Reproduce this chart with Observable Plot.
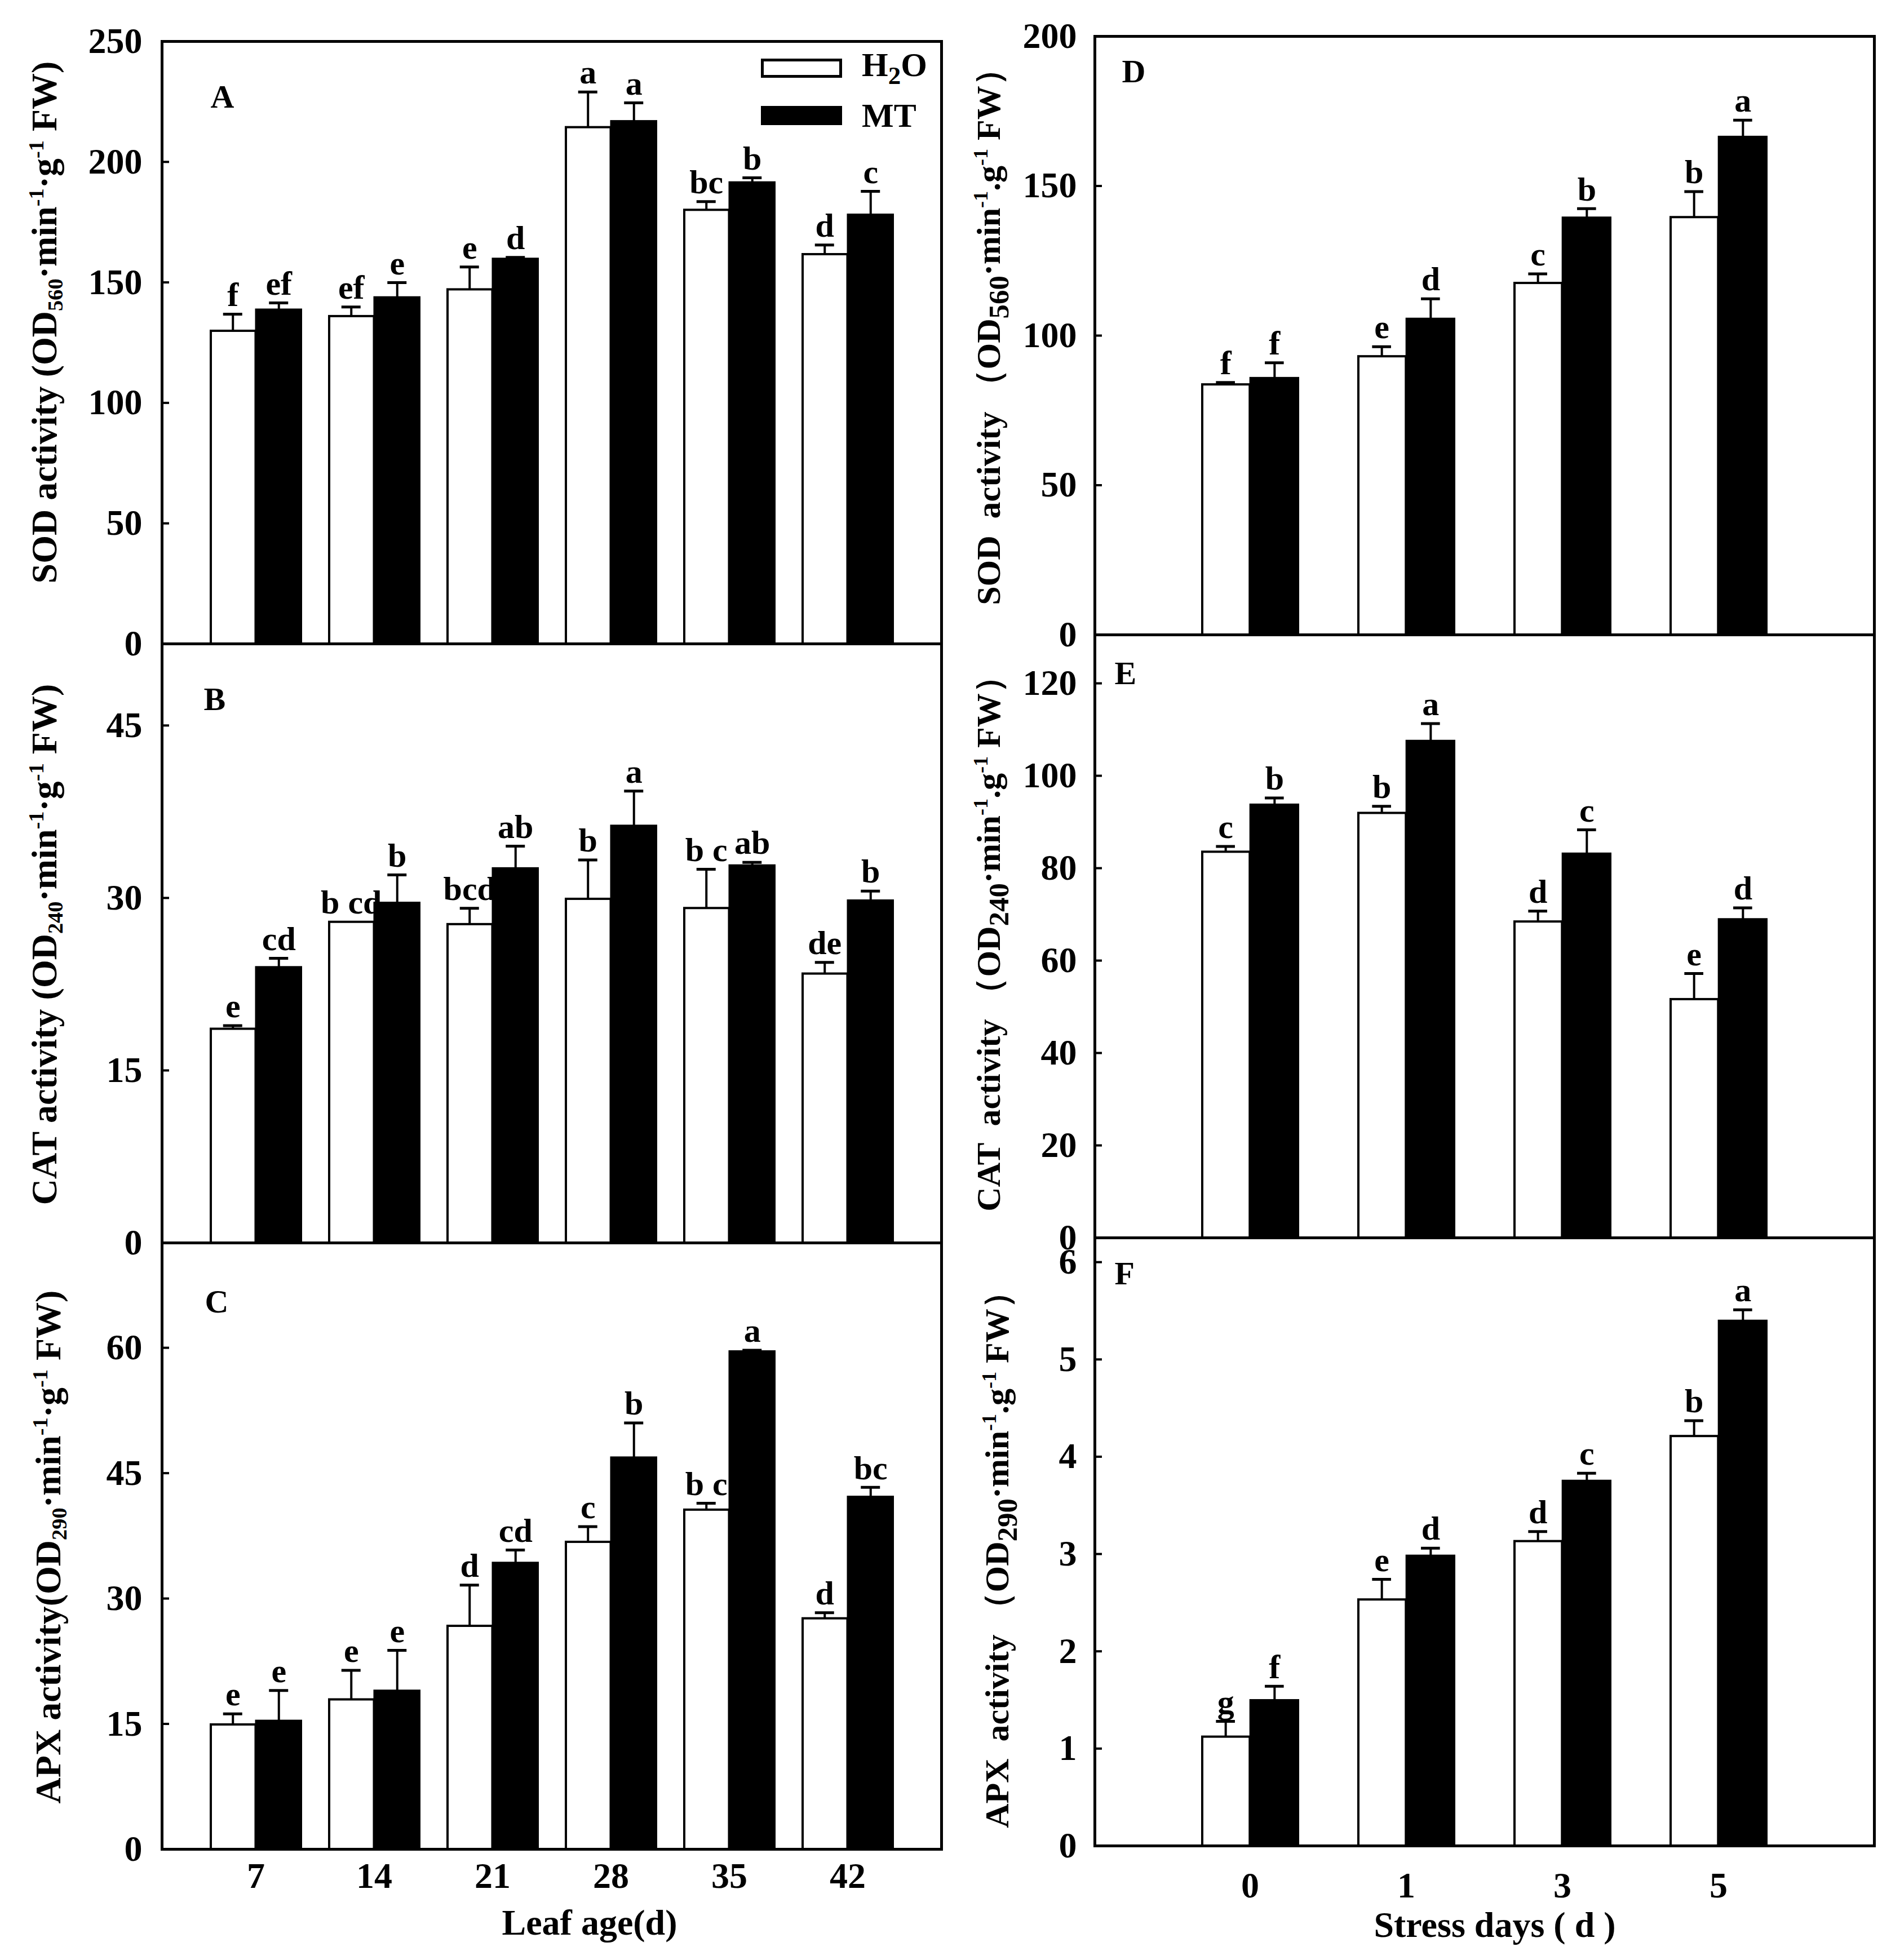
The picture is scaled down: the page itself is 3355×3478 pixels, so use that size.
<!DOCTYPE html>
<html>
<head>
<meta charset="utf-8">
<script src="https://cdn.jsdelivr.net/npm/d3@7"></script>
<script src="https://cdn.jsdelivr.net/npm/@observablehq/plot@0.6"></script>
<style>
  html, body { margin: 0; padding: 0; background: #fff; overflow: hidden; }
  #root { position: relative; width: 3355px; height: 3478px; background: #fff; overflow: hidden;
          font-family: 'Liberation Serif', 'Times New Roman', serif; font-weight: bold; color: #000; }
  .ytitle { position: absolute; white-space: pre; transform: translate(-50%, -50%) rotate(-90deg); line-height: 1; }
  .ytitle sub { font-size: 0.6em; vertical-align: -0.3em; }
  .ytitle sup { font-size: 0.6em; vertical-align: 0.6em; }
  .ytitle.r sub { font-size: 0.85em; vertical-align: -0.3em; }
  .xtitle { position: absolute; white-space: pre; transform: translate(-50%, -50%); line-height: 1; }
  .leg { position: absolute; box-sizing: border-box; }
  .legtxt { position: absolute; white-space: pre; transform: translateY(-50%); line-height: 1; font-size: 60px; }
  .legtxt sub { font-size: 0.75em; vertical-align: -0.3em; }
</style>
</head>
<body>
<div id="root"></div>
<script>
// ---------------- data ----------------
const leafAge = ["7", "14", "21", "28", "35", "42"];
const stressDays = ["0", "1", "3", "5"];

// Panel A: SOD vs leaf age
const sodLeafH2O = [129.8, 135.9, 147.0, 214.3, 180.0, 161.6];
const sodLeafH2OErr = [7.0, 3.9, 9.4, 14.7, 3.5, 3.9];
const sodLeafMT = [138.8, 143.9, 159.9, 217.0, 191.6, 178.2];
const sodLeafMTErr = [2.7, 6.0, 0.5, 7.5, 1.8, 9.6];
const sodLeafH2OSig = ["f", "ef", "e", "a", "bc", "d"];
const sodLeafMTSig = ["ef", "e", "d", "a", "b", "c"];
const sodLeafTicks = [0, 50, 100, 150, 200, 250];

// Panel B: CAT vs leaf age
const catLeafH2O = [18.6, 27.9, 27.7, 29.9, 29.1, 23.4];
const catLeafH2OErr = [0.3, 0, 1.4, 3.4, 3.4, 1.0];
const catLeafMT = [24.0, 29.6, 32.6, 36.3, 32.85, 29.8];
const catLeafMTErr = [0.75, 2.4, 1.9, 3.0, 0.25, 0.8];
const catLeafH2OSig = ["e", "b cd", "bcd", "b", "b c", "de"];
const catLeafMTSig = ["cd", "b", "ab", "a", "ab", "b"];
const catLeafTicks = [0, 15, 30, 45];

// Panel C: APX vs leaf age
const apxLeafH2O = [14.9, 17.9, 26.7, 36.75, 40.6, 27.6];
const apxLeafH2OErr = [1.3, 3.5, 4.9, 1.85, 0.8, 0.7];
const apxLeafMT = [15.4, 19.0, 34.3, 46.9, 59.6, 42.2];
const apxLeafMTErr = [3.6, 4.8, 1.5, 4.1, 0.1, 1.1];
const apxLeafH2OSig = ["e", "e", "d", "c", "b c", "d"];
const apxLeafMTSig = ["e", "e", "cd", "b", "a", "bc"];
const apxLeafTicks = [0, 15, 30, 45, 60];

// Panel D: SOD vs stress days
const sodStressH2O = [83.6, 93.0, 117.5, 139.5];
const sodStressH2OErr = [0.7, 3.3, 3.1, 8.6];
const sodStressMT = [85.9, 105.7, 139.5, 166.5];
const sodStressMTErr = [5.0, 6.6, 2.9, 5.5];
const sodStressH2OSig = ["f", "e", "c", "b"];
const sodStressMTSig = ["f", "d", "b", "a"];
const sodStressTicks = [0, 50, 100, 150, 200];

// Panel E: CAT vs stress days
const catStressH2O = [83.5, 91.9, 68.4, 51.6];
const catStressH2OErr = [1.2, 1.5, 2.3, 5.6];
const catStressMT = [93.8, 107.6, 83.2, 69.0];
const catStressMTErr = [1.4, 3.7, 5.1, 2.4];
const catStressH2OSig = ["c", "b", "d", "e"];
const catStressMTSig = ["b", "a", "c", "d"];
const catStressTicks = [0, 20, 40, 60, 80, 100, 120];

// Panel F: APX vs stress days
const apxStressH2O = [1.12, 2.53, 3.13, 4.21];
const apxStressH2OErr = [0.16, 0.21, 0.10, 0.16];
const apxStressMT = [1.50, 2.985, 3.755, 5.40];
const apxStressMTErr = [0.14, 0.075, 0.075, 0.11];
const apxStressH2OSig = ["g", "e", "d", "b"];
const apxStressMTSig = ["f", "d", "c", "a"];
const apxStressTicks = [0, 1, 2, 3, 4, 5, 6];

// ---------------- drawing ----------------
const root = document.getElementById("root");
const FRAME_W = 1383;
const FONT = "'Liberation Serif', 'Times New Roman', serif";

function panel(o) {
  const n = o.cats.length;
  const step = FRAME_W / (n - o.pi + 2 * o.po);
  const bw = step * (1 - o.pi);
  const q = bw / 4;
  const capHalf = 17;
  const rowsH = o.cats.map((c, i) => ({cat: c, v: o.h2o[i], e: o.h2oErr[i], l: o.h2oSig[i]}));
  const rowsM = o.cats.map((c, i) => ({cat: c, v: o.mtv[i], e: o.mtErr[i], l: o.mtSig[i]}));
  const errH = rowsH.filter(d => d.e > 0);
  const errM = rowsM.filter(d => d.e > 0);
  const marks = [
    Plot.barY(rowsH, {x: "cat", y: "v", fill: "white", stroke: "black", strokeWidth: 4, insetLeft: 2, insetRight: bw / 2}),
    Plot.barY(rowsM, {x: "cat", y: "v", fill: "black", stroke: "black", strokeWidth: 2, insetLeft: bw / 2, insetRight: 0}),
    Plot.ruleX(errH, {x: "cat", y1: "v", y2: d => d.v + d.e, dx: -q, strokeWidth: 4}),
    Plot.ruleX(errM, {x: "cat", y1: "v", y2: d => d.v + d.e, dx: q, strokeWidth: 4}),
    Plot.tickY(errH, {x: "cat", y: d => d.v + d.e, insetLeft: q - capHalf, insetRight: bw - q - capHalf, strokeWidth: 5}),
    Plot.tickY(errM, {x: "cat", y: d => d.v + d.e, insetLeft: 3 * q - capHalf, insetRight: q - capHalf, strokeWidth: 5}),
    Plot.text(rowsH, {x: "cat", y: d => d.v + d.e, text: "l", dx: -q, dy: -34, fontSize: 60, lineAnchor: "middle"}),
    Plot.text(rowsM, {x: "cat", y: d => d.v + d.e, text: "l", dx: q, dy: -34, fontSize: 60, lineAnchor: "middle"}),
    Plot.tickY(o.ticks, {y: d => d, insetRight: FRAME_W - 13, strokeWidth: 4}),
    Plot.axisY({ticks: o.ticks, tickSize: 0, tickPadding: o.tickPad, fontSize: 64, label: null, tickFormat: d => String(d)}),
    Plot.frame({strokeWidth: 5}),
    Plot.text([o.letter], {frameAnchor: "top-left", text: d => d, dx: o.letterDx, dy: o.letterDy, fontSize: 58, textAnchor: "start", lineAnchor: "middle"})
  ];
  if (o.xAxis) {
    marks.push(Plot.axisX({tickSize: 0, tickPadding: o.xPad, fontSize: 64, label: null}));
  }
  const svg = Plot.plot({
    width: o.ml + FRAME_W + o.mr,
    height: o.mTop + o.innerH + o.mb,
    marginTop: o.mTop, marginBottom: o.mb, marginLeft: o.ml, marginRight: o.mr,
    x: {type: "band", domain: o.cats, paddingInner: o.pi, paddingOuter: o.po, axis: o.xAxis ? undefined : null},
    y: {domain: [0, o.top]},
    style: {fontFamily: FONT, fontWeight: "bold", background: "transparent", overflow: "visible", color: "black"},
    marks
  });
  svg.style.position = "absolute";
  svg.style.left = o.left + "px";
  svg.style.top = o.topPx + "px";
  root.appendChild(svg);
}

const L = {cats: leafAge, pi: 0.225, po: 0.40, left: 0, ml: 287, mr: 30, tickPad: 35};
const R = {cats: stressDays, pi: 0.375, po: 0.68, left: 1700, ml: 242, mr: 30, tickPad: 32};

panel({...L, h2o: sodLeafH2O, h2oErr: sodLeafH2OErr, mtv: sodLeafMT, mtErr: sodLeafMTErr,
  h2oSig: sodLeafH2OSig, mtSig: sodLeafMTSig, ticks: sodLeafTicks, top: 250,
  topPx: 0, mTop: 73, innerH: 1069, mb: 40, letter: "A", letterDx: 86, letterDy: 99});
panel({...L, h2o: catLeafH2O, h2oErr: catLeafH2OErr, mtv: catLeafMT, mtErr: catLeafMTErr,
  h2oSig: catLeafH2OSig, mtSig: catLeafMTSig, ticks: catLeafTicks, top: 52.1,
  topPx: 1102, mTop: 40, innerH: 1063, mb: 40, letter: "B", letterDx: 74, letterDy: 99});
panel({...L, h2o: apxLeafH2O, h2oErr: apxLeafH2OErr, mtv: apxLeafMT, mtErr: apxLeafMTErr,
  h2oSig: apxLeafH2OSig, mtSig: apxLeafMTSig, ticks: apxLeafTicks, top: 72.55,
  topPx: 2165, mTop: 40, innerH: 1076, mb: 197, letter: "C", letterDx: 76, letterDy: 105, xAxis: true, xPad: 23});

panel({...R, h2o: sodStressH2O, h2oErr: sodStressH2OErr, mtv: sodStressMT, mtErr: sodStressMTErr,
  h2oSig: sodStressH2OSig, mtSig: sodStressMTSig, ticks: sodStressTicks, top: 200,
  topPx: 0, mTop: 64, innerH: 1062, mb: 40, letter: "D", letterDx: 48, letterDy: 63});
panel({...R, h2o: catStressH2O, h2oErr: catStressH2OErr, mtv: catStressMT, mtErr: catStressMTErr,
  h2oSig: catStressH2OSig, mtSig: catStressMTSig, ticks: catStressTicks, top: 130.5,
  topPx: 1086, mTop: 40, innerH: 1070, mb: 40, letter: "E", letterDx: 35, letterDy: 69});
panel({...R, h2o: apxStressH2O, h2oErr: apxStressH2OErr, mtv: apxStressMT, mtErr: apxStressMTErr,
  h2oSig: apxStressH2OSig, mtSig: apxStressMTSig, ticks: apxStressTicks, top: 6.25,
  topPx: 2156, mTop: 40, innerH: 1079, mb: 203, letter: "F", letterDx: 35, letterDy: 64, xAxis: true, xPad: 46});

// ---------------- titles ----------------
function addDiv(cls, html, x, y, size) {
  const d = document.createElement("div");
  d.className = cls;
  d.innerHTML = html;
  d.style.left = x + "px";
  d.style.top = y + "px";
  if (size) d.style.fontSize = size + "px";
  root.appendChild(d);
  return d;
}
addDiv("ytitle", "SOD activity (OD<sub>560</sub>·min<sup>-1</sup>·g<sup>-1</sup> FW)", 81, 572, 64);
addDiv("ytitle", "CAT activity (OD<sub>240</sub>·min<sup>-1</sup>·g<sup>-1</sup> FW)", 81, 1676, 64);
addDiv("ytitle", "APX activity(OD<sub>290</sub>·min<sup>-1</sup>·g<sup>-1</sup> FW)", 88, 2745, 64);
addDiv("ytitle r", "SOD  activity （OD<sub>560</sub>·min<sup>-1</sup>.g<sup>-1</sup> FW）", 1760, 583, 60);
addDiv("ytitle r", "CAT  activity （OD<sub>240</sub>·min<sup>-1</sup>.g<sup>-1</sup> FW）", 1760, 1660, 60);
addDiv("ytitle r", "APX  activity （OD<sub>290</sub>·min<sup>-1</sup>.g<sup>-1</sup> FW）", 1775, 2753, 60);
addDiv("xtitle", "Leaf age(d)", 1046, 3412, 64);
addDiv("xtitle", "Stress days ( d )", 2652, 3416, 64);

// ---------------- legend (panel A) ----------------
const lw = document.createElement("div");
lw.className = "leg";
Object.assign(lw.style, {left: "1350px", top: "104px", width: "144px", height: "34px", border: "5px solid #000", background: "#fff"});
root.appendChild(lw);
const lb = document.createElement("div");
lb.className = "leg";
Object.assign(lb.style, {left: "1350px", top: "188px", width: "144px", height: "34px", background: "#000"});
root.appendChild(lb);
addDiv("legtxt", "H<sub>2</sub>O", 1529, 121);
addDiv("legtxt", "MT", 1529, 205);
</script>
</body>
</html>
